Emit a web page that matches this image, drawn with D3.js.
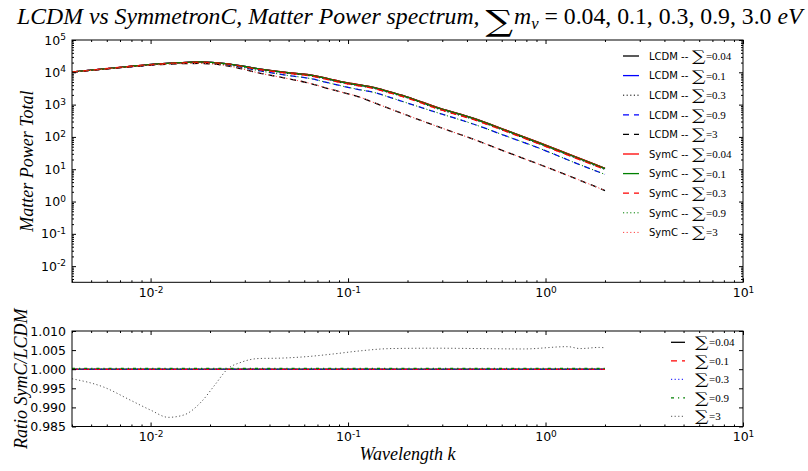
<!DOCTYPE html>
<html>
<head>
<meta charset="utf-8">
<script src="https://cdn.jsdelivr.net/npm/d3@7"></script>
<style>
  body { margin: 0; background: #fff; }
  svg { display: block; }
  text { white-space: pre; }
</style>
</head>
<body>
<svg id="chart" width="808" height="471"></svg>
<script>
// ---------------- data ----------------
// wavenumbers k at which the spectra are tabulated
const kValues = [0.004, 0.005, 0.0075, 0.011, 0.0145, 0.0178, 0.024, 0.036, 0.05, 0.064, 0.08,
                 0.091, 0.115, 0.133, 0.16, 0.197, 0.29, 0.43, 0.63, 0.93, 1.37, 2.0];

// neutrino mass sums (eV)
const massLabels = ["0.04", "0.1", "0.3", "0.9", "3"];

// LCDM total matter power
const lcdm004 = [10200, 11700, 14800, 18200, 20000, 20900, 18600, 12600, 9770, 8320, 6310,
                 5250, 4070, 3470, 2570, 1780, 776, 380, 162, 66.1, 26.3, 10.7];
const lcdm01  = [10200, 11700, 14800, 18200, 20000, 20900, 18600, 12600, 9660, 8130, 6170,
                 5130, 3980, 3390, 2510, 1740, 759, 372, 158, 64.6, 25.7, 10.5];
const lcdm03  = [10200, 11700, 14800, 18000, 19700, 20400, 18200, 12000, 9230, 7760, 5820,
                 4840, 3760, 3200, 2370, 1640, 708, 347, 148, 60.3, 24.0, 9.77];
const lcdm09  = [10100, 11600, 14500, 17600, 19100, 19500, 17200, 11000, 7940, 6460, 4680,
                 3890, 2880, 2450, 1740, 1150, 537, 251, 107, 44.7, 17.0, 6.92];
const lcdm3   = [10000, 11500, 14300, 17200, 18600, 18800, 16200, 9330, 6310, 4570, 3090,
                 2510, 1700, 1200, 776, 479, 200, 85.1, 34.7, 14.1, 5.62, 2.19];

// Symmetron-C total matter power
const symc004 = [10200, 11700, 14800, 18200, 20000, 20900, 18600, 12600, 9770, 8320, 6310,
                 5250, 4070, 3470, 2570, 1780, 776, 380, 162, 66.1, 26.3, 10.7];
const symc01  = [10200, 11700, 14800, 18200, 20000, 20900, 18600, 12600, 9660, 8130, 6170,
                 5130, 3980, 3390, 2510, 1740, 759, 372, 158, 64.6, 25.7, 10.5];
const symc03  = [10200, 11700, 14800, 18000, 19700, 20400, 18200, 12000, 9230, 7760, 5820,
                 4840, 3760, 3200, 2370, 1640, 708, 347, 148, 60.3, 24.0, 9.77];
const symc09  = [10100, 11600, 14500, 17600, 19100, 19500, 17200, 11000, 7940, 6460, 4680,
                 3890, 2880, 2450, 1740, 1150, 537, 251, 107, 44.7, 17.0, 6.92];
const symc3   = [10000, 11500, 14300, 17200, 18600, 18800, 16200, 9330, 6310, 4570, 3090,
                 2510, 1700, 1200, 776, 479, 200, 85.1, 34.7, 14.1, 5.62, 2.19];

// ratio SymC / LCDM
const kRatioFlat = [0.004, 0.01, 0.1, 1.0, 2.0];
const ratio004 = [1.0000, 1.0000, 1.0000, 1.0000, 1.0000];
const ratio01  = [0.99995, 0.99995, 0.99995, 0.99995, 0.99995];
const ratio03  = [1.0000, 1.0000, 1.0000, 1.0000, 1.0000];
const ratio09  = [1.0002, 1.0002, 1.0002, 1.0002, 1.0002];
const kRatio3  = [0.004, 0.0058, 0.0079, 0.01, 0.0123, 0.0147, 0.0181, 0.0211, 0.0246, 0.0287,
                  0.0354, 0.0457, 0.0621, 0.0845, 0.115, 0.165, 0.276, 0.462, 0.773, 1.29, 1.5, 1.87, 2.0];
const ratio3   = [0.9975, 0.9953, 0.9919, 0.9893, 0.9874, 0.9880, 0.9915, 0.9958, 1.0001, 1.0018,
                  1.0028, 1.0029, 1.0033, 1.0040, 1.0048, 1.0054, 1.0055, 1.0054, 1.0053, 1.0059,
                  1.0054, 1.0057, 1.0056];

// axis ticks
const xTickExponents = [-2, -1, 0, 1];
const yPowerExponents = [-2, -1, 0, 1, 2, 3, 4, 5];
const yRatioTicks = [0.985, 0.990, 0.995, 1.000, 1.005, 1.010];

// ---------------- layout & styles ----------------
const svg = d3.select("#chart");
const L = 72, R = 743;
const pTop = 40, pBot = 282.3;
const rTop = 331, rBot = 426.5;
const tickFont = "'DejaVu Sans', sans-serif";
const serif = "'Liberation Serif', 'DejaVu Serif', serif";
const sumFont = "'DejaVu Serif', serif";

const dash = { solid: null, dashed: "6,5", dotted: "1.2,2.4", dashdot: "3,4,1.2,4" };

const powerSeries = [
  { name: "LCDM", m: 0, values: lcdm004, color: "#000000", dash: dash.solid,  w: 1.3 },
  { name: "LCDM", m: 1, values: lcdm01,  color: "#0000ff", dash: dash.solid,  w: 1.3 },
  { name: "LCDM", m: 2, values: lcdm03,  color: "#000000", dash: dash.dotted, w: 1.0 },
  { name: "LCDM", m: 3, values: lcdm09,  color: "#0000ff", dash: dash.dashed, w: 1.3 },
  { name: "LCDM", m: 4, values: lcdm3,   color: "#000000", dash: dash.dashed, w: 1.3 },
  { name: "SymC", m: 0, values: symc004, color: "#ff0000", dash: dash.solid,  w: 1.3 },
  { name: "SymC", m: 1, values: symc01,  color: "#008000", dash: dash.solid,  w: 1.3 },
  { name: "SymC", m: 2, values: symc03,  color: "#ff0000", dash: dash.dashed, w: 1.3 },
  { name: "SymC", m: 3, values: symc09,  color: "#008000", dash: dash.dotted, w: 1.0 },
  { name: "SymC", m: 4, values: symc3,   color: "#ff4040", dash: dash.dotted, w: 1.0 }
];

const ratioSeries = [
  { m: 0, k: kRatioFlat, values: ratio004, color: "#000000", dash: dash.solid,   w: 1.3 },
  { m: 1, k: kRatioFlat, values: ratio01,  color: "#ff0000", dash: dash.dashed,  w: 1.3 },
  { m: 2, k: kRatioFlat, values: ratio03,  color: "#0000ff", dash: dash.dotted,  w: 1.0 },
  { m: 3, k: kRatioFlat, values: ratio09,  color: "#008000", dash: dash.dashdot, w: 1.3 },
  { m: 4, k: kRatio3,    values: ratio3,   color: "#555555", dash: dash.dotted,  w: 1.0 }
];

// ---------------- scales ----------------
const x = d3.scaleLog().domain([0.004, 10]).range([L, R]);
const yP = d3.scaleLog().domain([Math.pow(10, -2.5), 1e5]).range([pBot, pTop]);
const yR = d3.scaleLinear().domain([0.985, 1.010]).range([rBot, rTop]);

const isPow10 = v => Math.abs(Math.log10(v) - Math.round(Math.log10(v))) < 1e-9;
const xMajor = xTickExponents.map(e => Math.pow(10, e));
const xMinor = x.ticks().filter(v => !isPow10(v));
const yPMajor = yPowerExponents.map(e => Math.pow(10, e));
const yPMinor = yP.ticks().filter(v => !isPow10(v));

function powLabel(sel) {
  sel.each(function (d) {
    const t = d3.select(this);
    const e = Math.round(Math.log10(d));
    t.text(null);
    t.append("tspan").text("10");
    t.append("tspan").attr("dy", "-0.5em").attr("font-size", "0.72em").text(e);
  });
}

function styleAxis(g) {
  g.select(".domain").remove();
  g.selectAll(".tick line").attr("stroke", "#000").attr("stroke-width", 1);
  g.selectAll(".tick text").attr("font-family", tickFont).attr("font-size", 12.5).attr("fill", "#000");
}

function frame(top, bot, yScale, yMajor, yMinor, yFormat) {
  const g = svg.append("g");
  // bottom
  g.append("g").attr("transform", `translate(0,${bot})`)
    .call(d3.axisBottom(x).tickValues(xMajor).tickSize(-4).tickSizeOuter(0).tickPadding(6).tickFormat(() => ""))
    .call(styleAxis).call(a => a.selectAll(".tick text").call(powLabel));
  g.append("g").attr("transform", `translate(0,${bot})`)
    .call(d3.axisBottom(x).tickValues(xMinor).tickSize(-2).tickSizeOuter(0).tickFormat(() => ""))
    .call(styleAxis);
  // top
  g.append("g").attr("transform", `translate(0,${top})`)
    .call(d3.axisTop(x).tickValues(xMajor).tickSize(-4).tickSizeOuter(0).tickFormat(() => ""))
    .call(styleAxis);
  g.append("g").attr("transform", `translate(0,${top})`)
    .call(d3.axisTop(x).tickValues(xMinor).tickSize(-2).tickSizeOuter(0).tickFormat(() => ""))
    .call(styleAxis);
  // left
  const left = g.append("g").attr("transform", `translate(${L},0)`)
    .call(d3.axisLeft(yScale).tickValues(yMajor).tickSize(-4).tickSizeOuter(0).tickPadding(6)
      .tickFormat(yFormat || (() => "")))
    .call(styleAxis);
  if (!yFormat) left.selectAll(".tick text").call(powLabel);
  // right
  g.append("g").attr("transform", `translate(${R},0)`)
    .call(d3.axisRight(yScale).tickValues(yMajor).tickSize(-4).tickSizeOuter(0).tickFormat(() => ""))
    .call(styleAxis);
  if (yMinor) {
    g.append("g").attr("transform", `translate(${L},0)`)
      .call(d3.axisLeft(yScale).tickValues(yMinor).tickSize(-2).tickSizeOuter(0).tickFormat(() => ""))
      .call(styleAxis);
    g.append("g").attr("transform", `translate(${R},0)`)
      .call(d3.axisRight(yScale).tickValues(yMinor).tickSize(-2).tickSizeOuter(0).tickFormat(() => ""))
      .call(styleAxis);
  }
  g.append("rect").attr("x", L).attr("y", top).attr("width", R - L).attr("height", bot - top)
    .attr("fill", "none").attr("stroke", "#000").attr("stroke-width", 1);
}

// clip regions
const defs = svg.append("defs");
defs.append("clipPath").attr("id", "clipP").append("rect")
  .attr("x", L).attr("y", pTop).attr("width", R - L).attr("height", pBot - pTop);
defs.append("clipPath").attr("id", "clipR").append("rect")
  .attr("x", L).attr("y", rTop).attr("width", R - L).attr("height", rBot - rTop);

// ---------------- power spectrum panel ----------------
const lineP = d3.line().x(d => x(d[0])).y(d => yP(d[1])).curve(d3.curveMonotoneX);
const gP = svg.append("g").attr("clip-path", "url(#clipP)");
powerSeries.forEach(s => {
  gP.append("path")
    .attr("d", lineP(kValues.map((k, i) => [k, s.values[i]])))
    .attr("fill", "none").attr("stroke", s.color).attr("stroke-width", s.w)
    .attr("stroke-dasharray", s.dash);
});
frame(pTop, pBot, yP, yPMajor, yPMinor, null);

// ---------------- ratio panel ----------------
const lineR = d3.line().x(d => x(d[0])).y(d => yR(d[1])).curve(d3.curveMonotoneX);
const gR = svg.append("g").attr("clip-path", "url(#clipR)");
ratioSeries.forEach(s => {
  gR.append("path")
    .attr("d", lineR(s.k.map((k, i) => [k, s.values[i]])))
    .attr("fill", "none").attr("stroke", s.color).attr("stroke-width", s.w)
    .attr("stroke-dasharray", s.dash);
});
frame(rTop, rBot, yR, yRatioTicks, null, d3.format(".3f"));

// ---------------- text helpers ----------------
// a large, slightly widened summation sign; returns its advance width
function sumSign(g, xPos, yBase, size, stretch) {
  const s = g.append("text")
    .attr("transform", `translate(${xPos},${yBase}) scale(${stretch},1)`)
    .attr("font-family", sumFont).attr("font-size", size).text("\u2211");
  return s.node().getComputedTextLength() * stretch;
}

function piece(g, xPos, yBase, txt, opts) {
  const t = g.append("text").attr("x", xPos).attr("y", yBase)
    .attr("font-family", opts.family).attr("font-size", opts.size)
    .attr("font-style", opts.italic ? "italic" : null).text(txt);
  return t.node().getComputedTextLength();
}

// "prefix ∑=mass"
function sumLabel(g, xText, yRow, prefix, mass) {
  let xc = xText;
  if (prefix) {
    xc += piece(g, xc, yRow + 3.8, prefix, { family: tickFont, size: 10 }) + 0.5;
  }
  xc += sumSign(g, xc, yRow + 5, 14.5, 1.3) + 0.5;
  piece(g, xc, yRow + 4, "=" + mass, { family: serif, size: 11 });
}

// ---------------- legends ----------------
const legP = svg.append("g");
powerSeries.forEach((s, i) => {
  const yRow = 56 + i * 19.6;
  legP.append("line").attr("x1", 623).attr("x2", 639).attr("y1", yRow).attr("y2", yRow)
    .attr("stroke", s.color).attr("stroke-width", s.w).attr("stroke-dasharray", s.dash);
  sumLabel(legP, 649, yRow, s.name + " -- ", massLabels[s.m]);
});

const legR = svg.append("g");
ratioSeries.forEach((s, i) => {
  const yRow = 342.3 + i * 18.5;
  legR.append("line").attr("x1", 671).attr("x2", 685).attr("y1", yRow).attr("y2", yRow)
    .attr("stroke", s.color).attr("stroke-width", s.w).attr("stroke-dasharray", s.dash);
  sumLabel(legR, 695, yRow, null, massLabels[s.m]);
});

// ---------------- title ----------------
function buildTitle(fs) {
  svg.select("#title").remove();
  const g = svg.append("g").attr("id", "title");
  const yb = 24;
  let xc = 17;
  xc += piece(g, xc, yb, "LCDM vs SymmetronC, Matter Power spectrum, ", { family: serif, size: fs, italic: true });
  xc += sumSign(g, xc, yb + fs * 0.3, fs * 1.25, 1.3) + 1;
  xc += piece(g, xc, yb, "m", { family: serif, size: fs, italic: true });
  xc += piece(g, xc, yb + fs * 0.22, "\u03bd", { family: serif, size: fs * 0.7, italic: true });
  xc += piece(g, xc, yb, " = 0.04, 0.1, 0.3, 0.9, 3.0 ", { family: serif, size: fs });
  xc += piece(g, xc, yb, "eV", { family: serif, size: fs, italic: true });
  return xc - 17;
}
const tw = buildTitle(22);
buildTitle(22 * 786 / tw);

// ---------------- axis labels ----------------
svg.append("text")
  .attr("transform", `translate(33,${(pTop + pBot) / 2}) rotate(-90)`)
  .attr("text-anchor", "middle").attr("font-family", serif).attr("font-style", "italic")
  .attr("font-size", 18).text("Matter Power Total");

svg.append("text")
  .attr("transform", `translate(27,${(rTop + rBot) / 2}) rotate(-90)`)
  .attr("text-anchor", "middle").attr("font-family", serif).attr("font-style", "italic")
  .attr("font-size", 18).text("Ratio SymC/LCDM");

svg.append("text")
  .attr("x", (L + R) / 2).attr("y", 460)
  .attr("text-anchor", "middle").attr("font-family", serif).attr("font-style", "italic")
  .attr("font-size", 18).text("Wavelength k");
</script>
</body>
</html>
